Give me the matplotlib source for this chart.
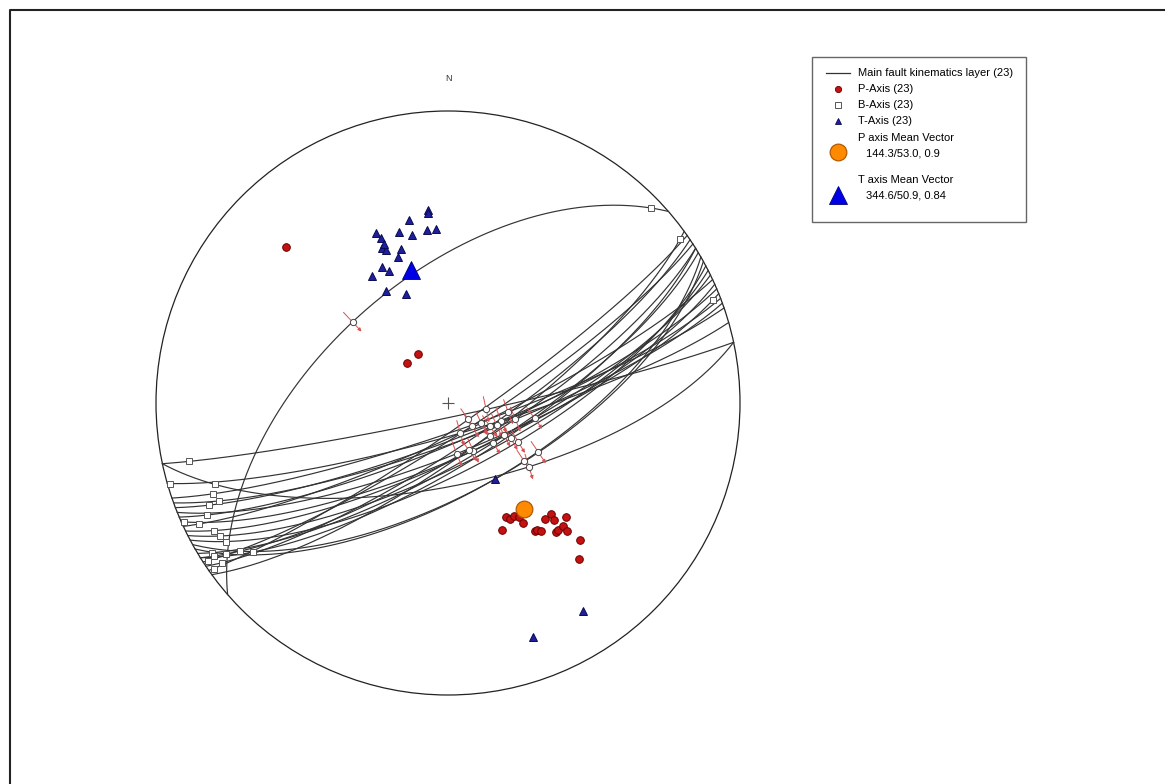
import numpy as np
import matplotlib.pyplot as plt
from matplotlib.patches import Circle, Rectangle

plt.rcParams['font.family'] = ['Liberation Sans', 'DejaVu Sans']

# fault planes: strike (right hand rule), dip, rake of slip lineation (deg)
strikes = [78, 78, 74, 71, 70, 69, 68, 67, 66, 65, 64, 63, 62, 61, 60, 59, 58, 57, 56, 55, 54, 58, 229]
dips    = [86, 67, 81, 82, 79, 80, 76, 79, 75, 81, 75, 73, 71, 65, 65, 74, 76, 81, 78, 83, 76, 73, 55]
rakes   = [80, 72, 89, 75, 74, 78, 93, 80, 89, 84, 80, 79, 78, 75, 80, 85, 85, 88, 84, 88, 93, 72, 85]

# P and T axes: trend / plunge (deg)
p_trend  = [153, 152, 150, 148, 148, 157, 140, 137, 138, 134, 146, 145, 144, 140, 139, 137, 137, 136, 140, 314, 314, 328, 145]
p_plunge = [54, 53, 53, 52, 50, 51, 47, 47, 45, 43, 46, 46, 45, 42, 42, 42, 40, 35, 31, 24, 74, 74, 53]
t_trend  = [354, 354, 348, 337, 344, 348, 353, 356, 338, 337, 338, 343, 341, 334, 336, 329, 331, 339, 148, 160, 147, 338, 345]
t_plunge = [34, 35, 36, 37, 39, 41, 40, 40, 39, 42, 43, 44, 46, 47, 49, 48, 54, 57, 65, 16, 16, 41, 50]

p_mean = (144.3, 53.0, 0.9)
t_mean = (344.6, 50.9, 0.84)


def line_vec(trend, plunge):
    t, p = np.radians(trend), np.radians(plunge)
    return np.array([np.cos(p) * np.sin(t), np.cos(p) * np.cos(t), np.sin(p)])


def proj(v):
    # lower hemisphere, equal area (Schmidt), unit radius
    v = np.asarray(v, dtype=float)
    if v.ndim == 1:
        v = v[:, None]
    v = np.where(v[2] < 0, -v, v)
    k = 1.0 / np.sqrt(1.0 + v[2])
    return v[0] * k, v[1] * k


def plane_vecs(s, d):
    s, d = np.radians(s), np.radians(d)
    sv = np.array([np.sin(s), np.cos(s), 0.0])
    dv = np.array([np.cos(d) * np.cos(s), -np.cos(d) * np.sin(s), np.sin(d)])
    return sv, dv


fig = plt.figure(figsize=(11.65, 7.84), dpi=100)
ax = fig.add_axes([156 / 1165, 89 / 784, 584 / 1165, 584 / 784])
ax.set_xlim(-1, 1)
ax.set_ylim(-1, 1)
ax.axis('off')

ax.add_patch(Circle((0, 0), 1, fill=False, ec='#222222', lw=0.9, zorder=2, clip_on=False))
ax.plot(0, 0, marker='+', ms=8, mew=0.8, color='#555555', zorder=2)
ax.text(0, 1.11, 'N', ha='center', va='center', fontsize=6.5, color='#333333')

a = np.linspace(0, np.pi, 300)
b_x, b_y, l_x, l_y = [], [], [], []
for s, d, r in zip(strikes, dips, rakes):
    sv, dv = plane_vecs(s, d)
    gc = np.outer(sv, np.cos(a)) + np.outer(dv, np.sin(a))
    x, y = proj(gc)
    ax.plot(x, y, color='#333333', lw=0.85, zorder=3, clip_on=False)
    rr = np.radians(r)
    lv = np.cos(rr) * sv + np.sin(rr) * dv
    bv = -np.sin(rr) * sv + np.cos(rr) * dv
    lx, ly = proj(lv)
    bx, by = proj(bv)
    l_x.append(lx[0]); l_y.append(ly[0])
    b_x.append(bx[0]); b_y.append(by[0])
    # slip arrow across the plane trace
    x1, y1 = proj(np.cos(rr - 0.01) * sv + np.sin(rr - 0.01) * dv)
    x2, y2 = proj(np.cos(rr + 0.01) * sv + np.sin(rr + 0.01) * dv)
    tx, ty = x2[0] - x1[0], y2[0] - y1[0]
    n = np.hypot(tx, ty)
    px, py = ty / n, -tx / n
    if py > 0:
        px, py = -px, -py
    h = 0.045
    ax.annotate('', xy=(lx[0] + px * h, ly[0] + py * h), xytext=(lx[0] - px * h, ly[0] - py * h),
                arrowprops=dict(arrowstyle='-|>', color='#d85050', lw=0.7,
                                mutation_scale=5, shrinkA=0, shrinkB=0), zorder=4)

ax.plot(l_x, l_y, 'o', ms=4.5, mfc='white', mec='#444444', mew=0.7, zorder=5, clip_on=False)
ax.plot(b_x, b_y, 's', ms=4.5, mfc='white', mec='#555555', mew=0.7, zorder=5, clip_on=False)

px_, py_ = proj(np.array([line_vec(t, p) for t, p in zip(p_trend, p_plunge)]).T)
tx_, ty_ = proj(np.array([line_vec(t, p) for t, p in zip(t_trend, t_plunge)]).T)
ax.plot(px_, py_, 'o', ms=5.5, mfc='#c41212', mec='#6a0000', mew=0.7, zorder=6, clip_on=False)
ax.plot(tx_, ty_, '^', ms=5.5, mfc='#1e1e9e', mec='#0a0a50', mew=0.7, zorder=6, clip_on=False)

mx, my = proj(line_vec(p_mean[0], p_mean[1]))
ax.plot(mx, my, 'o', ms=12, mfc='#ff8a00', mec='#b05a00', mew=0.9, zorder=7)
mx, my = proj(line_vec(t_mean[0], t_mean[1]))
ax.plot(mx, my, '^', ms=13, mfc='#0000e6', mec='#00007a', mew=0.6, zorder=7)

# overlay in pixel units: frame and legend
ov = fig.add_axes([0, 0, 1, 1], facecolor='none')
ov.set_xlim(0, 1165)
ov.set_ylim(784, 0)
ov.axis('off')
ov.plot([10, 10, 1165], [784, 10, 10], color='#222222', lw=1.5)

ov.add_patch(Rectangle((812, 57), 214, 165, fill=False, ec='#666666', lw=1.0))
fs = 8
ov.plot([826, 850], [73, 73], color='#333333', lw=0.9)
ov.text(858, 73, 'Main fault kinematics layer (23)', va='center', fontsize=fs)
ov.plot(838, 89, 'o', ms=4.5, mfc='#c41212', mec='#6a0000', mew=0.6)
ov.text(858, 89, 'P-Axis (23)', va='center', fontsize=fs)
ov.plot(838, 105, 's', ms=4.5, mfc='white', mec='#555555', mew=0.7)
ov.text(858, 105, 'B-Axis (23)', va='center', fontsize=fs)
ov.plot(838, 121, '^', ms=5, mfc='#1e1e9e', mec='#0a0a50', mew=0.6)
ov.text(858, 121, 'T-Axis (23)', va='center', fontsize=fs)
ov.plot(838, 152, 'o', ms=12, mfc='#ff8a00', mec='#b05a00', mew=0.9)
ov.text(858, 138, 'P axis Mean Vector', va='center', fontsize=fs)
ov.text(866, 153, '%.1f/%.1f, %s' % p_mean, va='center', fontsize=fs)
ov.plot(838, 195, '^', ms=13, mfc='#0000e6', mec='#00007a', mew=0.6)
ov.text(858, 180, 'T axis Mean Vector', va='center', fontsize=fs)
ov.text(866, 195, '%.1f/%.1f, %s' % t_mean, va='center', fontsize=fs)

fig.savefig('out.png', dpi=100)
